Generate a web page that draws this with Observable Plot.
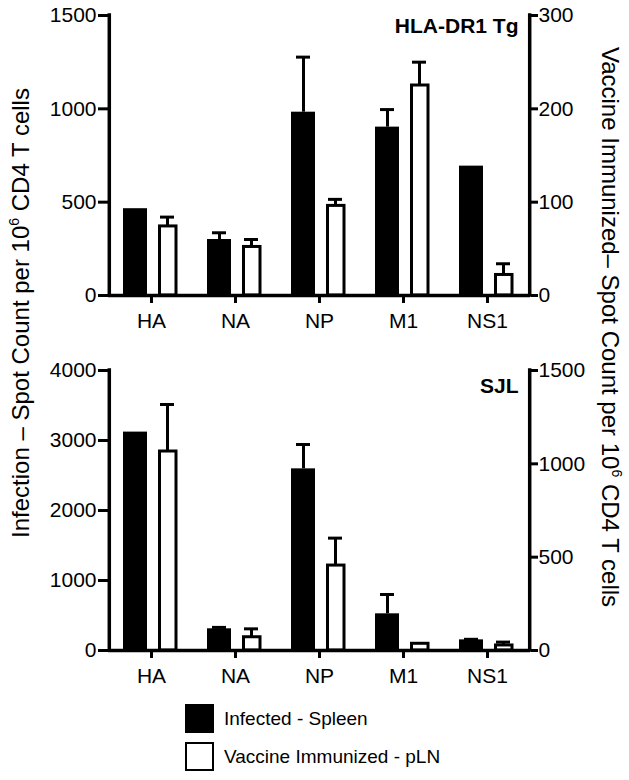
<!DOCTYPE html>
<html><head><meta charset="utf-8">
<script src="https://cdn.jsdelivr.net/npm/d3@7"></script>
<script src="https://cdn.jsdelivr.net/npm/@observablehq/plot@0.6"></script>
<style>
body{margin:0;background:#fff;font-family:Arial,"Liberation Sans",sans-serif;color:#000;}
#wrap{position:relative;width:629px;height:780px;overflow:hidden;}
.panel{position:absolute;left:0;}
.panel g[aria-label$="axis tick"], .panel g[aria-label$="axis tick"] *{stroke-width:3px !important;}
.ylab{position:absolute;white-space:nowrap;font-size:24px;line-height:1;}
.ylab sup{font-size:14px;vertical-align:10px;line-height:0;}
.leg{position:absolute;left:185px;display:flex;align-items:center;font-size:19px;}
.sw{width:29px;height:29px;box-sizing:border-box;margin-right:10px;}
</style></head><body><div id="wrap"></div>
<script>
const categories = ["HA", "NA", "NP", "M1", "NS1"];

// HLA-DR1 Tg
const dr1Infected    = [465, 300, 982, 902, 693];
const dr1InfectedSem = [0, 36, 295, 94, 0];
const dr1Vaccine     = [74, 52, 96, 225, 22];
const dr1VaccineSem  = [10, 8, 7, 25, 12];

// SJL
const sjlInfected    = [3120, 310, 2595, 524, 152];
const sjlInfectedSem = [0, 20, 348, 276, 8];
const sjlVaccine     = [1066, 71, 455, 36, 27];
const sjlVaccineSem  = [252, 45, 147, 0, 18];

const leftTicksTop = [0, 500, 1000, 1500];
const rightTicksTop = [0, 100, 200, 300];
const leftTicksBottom = [0, 1000, 2000, 3000, 4000];
const rightTicksBottom = [0, 500, 1000, 1500];

const FONT = 'Arial, "Liberation Sans", sans-serif';
const W = 629, ML = 108, MR = 99;
const BW = (W - ML - MR) / categories.length;

function panel({inf, infSem, vac, vacSem, leftMax, leftTicks, rightMax, rightTicks, title, titleDy}) {
  const k = leftMax / rightMax;
  const rows = categories.map((c, i) => ({
    cat: c, inf: inf[i], infTop: inf[i] + infSem[i], infSem: infSem[i],
    vac: vac[i] * k, vacTop: (vac[i] + vacSem[i]) * k, vacSem: vacSem[i]
  }));
  const infErr = rows.filter(d => d.infSem > 0);
  const vacErr = rows.filter(d => d.vacSem > 0);
  return Plot.plot({
    width: W, height: 335,
    marginTop: 15, marginBottom: 40, marginLeft: ML, marginRight: MR,
    style: {fontFamily: FONT, fontSize: "21px", color: "#000", background: "transparent"},
    x: {domain: categories, padding: 0, label: null},
    y: {domain: [0, leftMax], label: null},
    marks: [
      Plot.ruleX(infErr, {x: "cat", y1: "inf", y2: "infTop", dx: -16, strokeWidth: 3}),
      Plot.tickY(infErr, {x: "cat", y: "infTop", insetLeft: 19, insetRight: 51, strokeWidth: 3}),
      Plot.ruleX(vacErr, {x: "cat", y1: "vac", y2: "vacTop", dx: 16, strokeWidth: 3}),
      Plot.tickY(vacErr, {x: "cat", y: "vacTop", insetLeft: 51, insetRight: 19, strokeWidth: 3}),
      Plot.barY(rows, {x: "cat", y: "inf", fill: "#000", insetLeft: 14, insetRight: 46}),
      Plot.barY(rows, {x: "cat", y: "vac", fill: "#fff", stroke: "#000", strokeWidth: 3, insetLeft: 50.5, insetRight: 17}),
      Plot.axisY({ticks: leftTicks, tickFormat: d => String(d), tickSize: 10, tickPadding: 2,
                  strokeWidth: 3, fontSize: 21, label: null}),
      Plot.axisY({anchor: "right", ticks: rightTicks.map(d => d * k), tickFormat: d => String(Math.round(d / k)),
                  tickSize: 7, tickPadding: 1, strokeWidth: 3, fontSize: 21, label: null}),
      Plot.axisX({tickSize: 8, tickPadding: 10, strokeWidth: 3, fontSize: 21, label: null}),
      Plot.ruleY([0], {strokeWidth: 3.5}),
      // vertical axis lines at the outer edges of the first / last band
      Plot.ruleX([categories[0]], {dx: -BW / 2, y1: 0, y2: leftMax, strokeWidth: 3.5, strokeLinecap: "square"}),
      Plot.ruleX([categories[categories.length - 1]], {dx: BW / 2, y1: 0, y2: leftMax, strokeWidth: 3.5, strokeLinecap: "square"}),
      Plot.text([title], {text: d => d, frameAnchor: "top-right", dx: -12, dy: titleDy,
                          fontWeight: "bold", fontSize: 21})
    ]
  });
}

const wrap = document.getElementById("wrap");

const topPanel = panel({inf: dr1Infected, infSem: dr1InfectedSem, vac: dr1Vaccine, vacSem: dr1VaccineSem,
  leftMax: 1500, leftTicks: leftTicksTop, rightMax: 300, rightTicks: rightTicksTop,
  title: "HLA-DR1 Tg", titleDy: 3});
topPanel.classList.add("panel"); topPanel.style.top = "0px";
wrap.appendChild(topPanel);

const bottomPanel = panel({inf: sjlInfected, infSem: sjlInfectedSem, vac: sjlVaccine, vacSem: sjlVaccineSem,
  leftMax: 4000, leftTicks: leftTicksBottom, rightMax: 1500, rightTicks: rightTicksBottom,
  title: "SJL", titleDy: 8});
bottomPanel.classList.add("panel"); bottomPanel.style.top = "355px";
wrap.appendChild(bottomPanel);

// rotated axis labels
const l = document.createElement("div");
l.className = "ylab";
l.innerHTML = "Infection – Spot Count per 10<sup>6</sup> CD4 T cells";
wrap.appendChild(l);
const lw = l.offsetWidth, lh = l.offsetHeight;
l.style.left = (21 - lw / 2) + "px";
l.style.top = (313 - lh / 2) + "px";
l.style.transform = "rotate(-90deg)";

const r = document.createElement("div");
r.className = "ylab";
r.innerHTML = "Vaccine Immunized– Spot Count per 10<sup>6</sup> CD4 T cells";
wrap.appendChild(r);
const rw = r.offsetWidth, rh = r.offsetHeight;
r.style.left = (610 - rw / 2) + "px";
r.style.top = (327 - rh / 2) + "px";
r.style.transform = "rotate(90deg)";

// legend
const legendItems = [
  {label: "Infected - Spleen", fill: "#000", y: 704},
  {label: "Vaccine Immunized - pLN", fill: "#fff", y: 742}
];
for (const it of legendItems) {
  const row = document.createElement("div");
  row.className = "leg";
  row.style.top = it.y + "px";
  const sw = document.createElement("div");
  sw.className = "sw";
  sw.style.background = it.fill;
  sw.style.border = "2px solid #000";
  row.appendChild(sw);
  const t = document.createElement("span");
  t.textContent = it.label;
  row.appendChild(t);
  wrap.appendChild(row);
}
</script>
</body></html>
